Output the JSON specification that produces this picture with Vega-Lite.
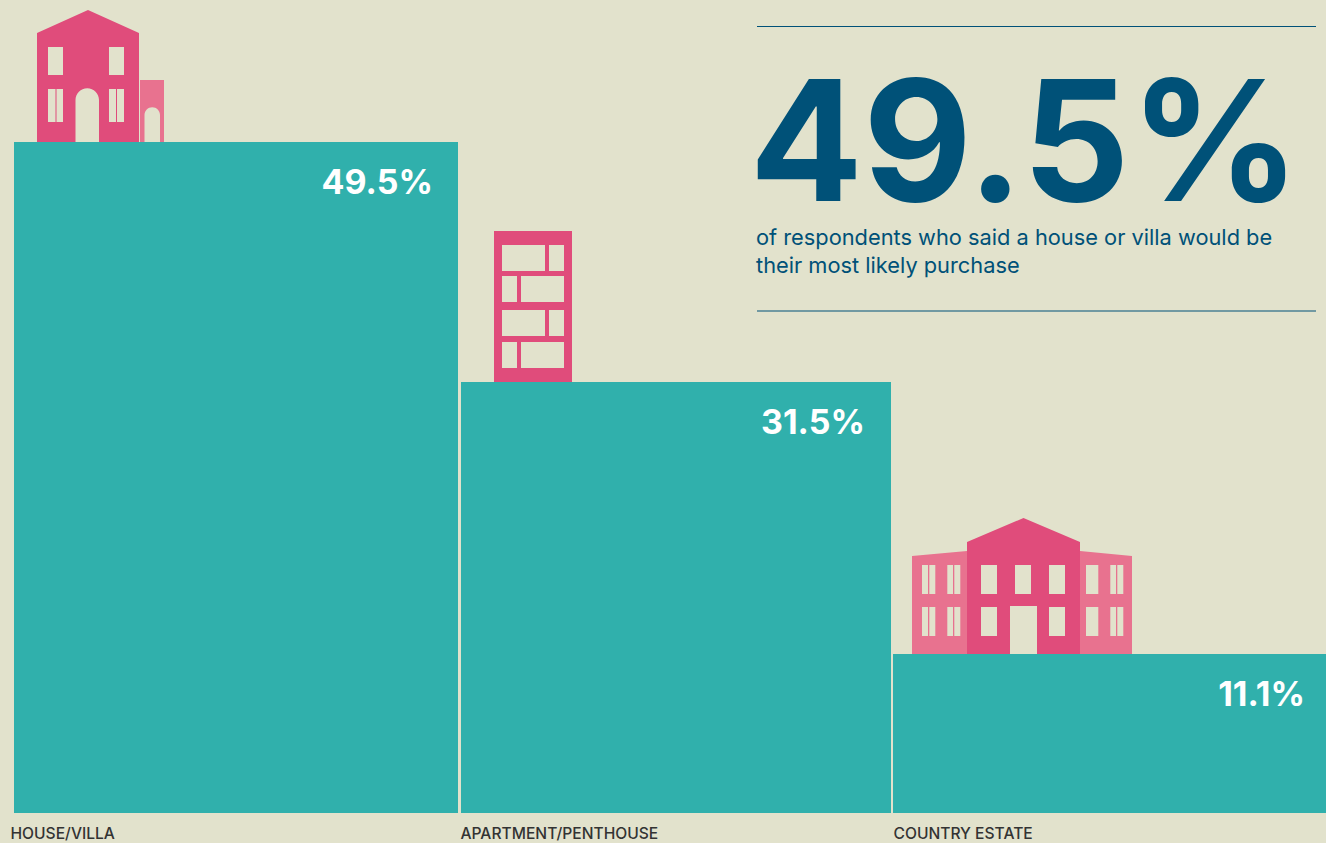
{
"$schema":"https://vega.github.io/schema/vega-lite/v6.json",
"autosize":{"type":"fit","contains":"padding"},
"width":1326,"height":843,"padding":0,
"background":"#E2E2CC",
"config":{"view":{"stroke":null}},
"datasets":{
 "bars":[
  {"category":"HOUSE/VILLA","value":"49.5%","start":14,"end":458,"height":671,"labelEnd":433,"nameStart":10.5},
  {"category":"APARTMENT/PENTHOUSE","value":"31.5%","start":461,"end":891,"height":431,"labelEnd":865,"nameStart":460.5},
  {"category":"COUNTRY ESTATE","value":"11.1%","start":893,"end":1326,"height":159,"labelEnd":1305,"nameStart":893.5}
 ],
 "icons":[
  {"part":"house annex","tone":"wing","x":37,"y":671},
  {"part":"house main","tone":"main","x":37,"y":671},
  {"part":"apartment","tone":"main","x":494,"y":431},
  {"part":"estate wings","tone":"wing","x":967,"y":159},
  {"part":"estate main","tone":"main","x":967,"y":159}
 ],
 "rules":[{"y":786.5},{"y":502}],
 "headline":[{"text":"49.5%"}],
 "subhead":[{"text":"of respondents who said a house or villa would be","y":568},{"text":"their most likely purchase","y":540}]
},
"layer":[
 {"data":{"name":"bars"},"mark":{"type":"rect","color":"#30B0AC"},
  "encoding":{
   "x":{"field":"start","type":"quantitative","axis":null,"scale":{"domain":[0,1326],"nice":false}},
   "x2":{"field":"end"},
   "y":{"field":"height","type":"quantitative","axis":null,"scale":{"domain":[-30,813],"nice":false,"zero":false}},
   "y2":{"datum":0}}},
 {"data":{"name":"icons"},"mark":{"type":"point","filled":true,"size":4,"opacity":1,"strokeWidth":0},
  "encoding":{
   "x":{"field":"x","type":"quantitative","axis":null,"scale":{"domain":[0,1326],"nice":false}},
   "y":{"field":"y","type":"quantitative","axis":null,"scale":{"domain":[-30,813],"nice":false,"zero":false}},
   "color":{"field":"tone","type":"nominal","legend":null,"scale":{"domain":["main","wing"],"range":["#E04C7B","#E8728F"]}},
   "shape":{"field":"part","type":"nominal","legend":null,"scale":{
    "domain":["house main","house annex","apartment","estate main","estate wings"],
    "range":[
     "M0 0V-109L51 -132L102 -109V0ZM11 -95V-67H26V-95ZM72 -95V-67H87V-95ZM11 -53V-20H18.5V-53ZM19.5 -53V-20H26V-53ZM72 -53V-20H79V-53ZM80 -53V-20H87V-53ZM38.5 -42V0H62V-42A11.75 11.75 0 0 0 38.5 -42Z",
     "M103 0V-62H127V0ZM107.5 -27V0H123V-27A7.75 7.75 0 0 0 107.5 -27Z",
     "M0 0V-151H78V0ZM8 -137V-111H51V-137ZM55 -137V-111H70V-137ZM8 -106V-80H23V-106ZM27 -106V-80H70V-106ZM8 -72V-46H51V-72ZM55 -72V-46H70V-72ZM8 -40V-14H23V-40ZM27 -40V-14H70V-40Z",
     "M0 0V-112L56.5 -136L113 -112V0ZM14 -89V-60H30V-89ZM48 -89V-60H64V-89ZM82 -89V-60H98V-89ZM14 -47V-18H30V-47ZM82 -47V-18H98V-47ZM43 -48V0H70V-48Z",
     "M-55 0V-98L0 -103V0ZM-45 -89V-60H-39V-89ZM-37.7 -89V-60H-31.7V-89ZM-19.7 -89V-60H-14V-89ZM-12.7 -89V-60H-6.7V-89ZM-45 -47V-18H-39V-47ZM-37.7 -47V-18H-31.7V-47ZM-19.7 -47V-18H-14V-47ZM-12.7 -47V-18H-6.7V-47ZM113 0V-103L165 -98V0ZM119 -89V-60H131.3V-89ZM143.3 -89V-60H149V-89ZM150.3 -89V-60H156.3V-89ZM119 -47V-18H131.3V-47ZM143.3 -47V-18H149V-47ZM150.3 -47V-18H156.3V-47Z"
    ]}}}},
 {"data":{"name":"bars"},"mark":{"type":"text","align":"right","baseline":"alphabetic","font":"Inter","fontSize":34,"fontWeight":700,"color":"#FFFFFF","yOffset":52},
  "encoding":{
   "x":{"field":"labelEnd","type":"quantitative","axis":null,"scale":{"domain":[0,1326],"nice":false}},
   "y":{"field":"height","type":"quantitative","axis":null,"scale":{"domain":[-30,813],"nice":false,"zero":false}},
   "text":{"field":"value"}}},
 {"data":{"name":"bars"},"mark":{"type":"text","align":"left","baseline":"alphabetic","font":"Inter","fontSize":15.6,"fontWeight":500,"color":"#333333"},
  "encoding":{
   "x":{"field":"nameStart","type":"quantitative","axis":null,"scale":{"domain":[0,1326],"nice":false}},
   "y":{"datum":-26,"type":"quantitative","axis":null,"scale":{"domain":[-30,813],"nice":false,"zero":false}},
   "text":{"field":"category"}}},
 {"data":{"name":"rules"},"mark":{"type":"rule","color":"#005178","strokeWidth":1.2},
  "encoding":{
   "x":{"datum":757,"type":"quantitative","axis":null,"scale":{"domain":[0,1326],"nice":false}},
   "x2":{"datum":1316},
   "y":{"field":"y","type":"quantitative","axis":null,"scale":{"domain":[-30,813],"nice":false,"zero":false}}}},
 {"data":{"name":"headline"},"mark":{"type":"text","align":"left","baseline":"alphabetic","font":"Inter","fontSize":168,"fontWeight":700,"color":"#005178"},
  "encoding":{
   "x":{"datum":749.5,"type":"quantitative","axis":null,"scale":{"domain":[0,1326],"nice":false}},
   "y":{"datum":612,"type":"quantitative","axis":null,"scale":{"domain":[-30,813],"nice":false,"zero":false}},
   "text":{"field":"text"}}},
 {"data":{"name":"subhead"},"mark":{"type":"text","align":"left","baseline":"alphabetic","font":"Inter","fontSize":21.8,"fontWeight":400,"color":"#005178"},
  "encoding":{
   "x":{"datum":756,"type":"quantitative","axis":null,"scale":{"domain":[0,1326],"nice":false}},
   "y":{"field":"y","type":"quantitative","axis":null,"scale":{"domain":[-30,813],"nice":false,"zero":false}},
   "text":{"field":"text"}}}
]
}
